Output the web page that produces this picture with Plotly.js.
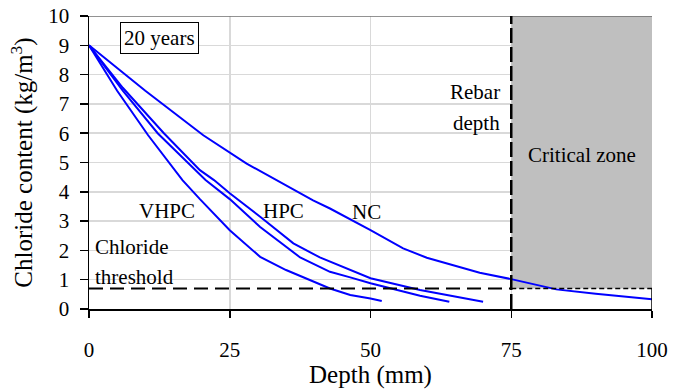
<!DOCTYPE html>
<html><head><meta charset="utf-8">
<script src="https://cdn.plot.ly/plotly-3.0.1.min.js"></script>
<style>html,body{margin:0;padding:0;background:#fff;}#chart{width:695px;height:389px;}
#chart svg text{fill:#000 !important;}
</style>
</head><body>
<div id="chart"></div>
<script>
// Depth (mm) and chloride content (kg/m3)
const ncDepth   = [0, 10, 20.3, 28, 39.8, 42.8, 50, 55.8, 60, 64.7, 69.4, 75, 83, 90, 100];
const ncCl      = [9, 7.45, 5.93, 4.96, 3.71, 3.43, 2.69, 2.07, 1.75, 1.50, 1.24, 1.02, 0.67, 0.52, 0.33];
const hpcADepth = [0, 6, 13.3, 19.7, 22.2, 25, 30.4, 36.3, 41, 46.4, 50, 58.8, 70];
const hpcACl    = [9, 7.55, 6.0, 4.74, 4.40, 3.95, 3.15, 2.24, 1.76, 1.33, 1.05, 0.65, 0.25];
const hpcBDepth = [0, 6, 12.2, 20.7, 25, 30.4, 37.5, 42.8, 46.4, 50, 58.8, 64];
const hpcBCl    = [9, 7.45, 6.0, 4.40, 3.75, 2.8, 1.76, 1.27, 1.08, 0.88, 0.45, 0.25];
const vhpcDepth = [0, 5, 10.5, 16.6, 19.7, 25, 30.4, 35, 42.8, 46.4, 50, 52];
const vhpcCl    = [9, 7.45, 5.93, 4.40, 3.75, 2.69, 1.78, 1.33, 0.70, 0.48, 0.36, 0.27];
const threshold = 0.7;
const rebarDepth = 75;
const maxDepth = 100;
const maxCl = 10;
const xTicks = [0, 25, 50, 75, 100];
const yTicks = [0,1,2,3,4,5,6,7,8,9,10];

const FONT = "Times New Roman";
const blue = '#0000ff';

const traces = [
  {x:[rebarDepth, maxDepth, maxDepth, rebarDepth, rebarDepth], y:[threshold, threshold, maxCl, maxCl, threshold],
   mode:'lines', fill:'toself', line:{width:0, color:'rgba(0,0,0,0)'},
   fillcolor:'#c4c4c4',
   fillpattern:{shape:'|', size:2, solidity:0.3, fgcolor:'#aaaaaa', bgcolor:'#c8c8c8'},
   hoverinfo:'skip'},
  {x:ncDepth, y:ncCl, mode:'lines', line:{color:blue, width:2}},
  {x:hpcADepth, y:hpcACl, mode:'lines', line:{color:blue, width:2}},
  {x:hpcBDepth, y:hpcBCl, mode:'lines', line:{color:blue, width:2}},
  {x:vhpcDepth, y:vhpcCl, mode:'lines', line:{color:blue, width:2}}
];

function ann(text, x, y, xanchor){
  return {text:text, x:x, y:y, xref:'x', yref:'y', showarrow:false, xanchor:xanchor||'center', yanchor:'middle'};
}

const layout = {
  width:695, height:389,
  margin:{l:89, r:43, t:16, b:80},
  paper_bgcolor:'#fff', plot_bgcolor:'#fff',
  showlegend:false,
  font:{family:FONT, size:21},
  xaxis:{range:[0, maxDepth], tickvals:xTicks, ticktext:xTicks.map(String), ticks:'outside', ticklen:7, tickwidth:1.5, tickcolor:'#000',
         showline:true, linecolor:'#000', linewidth:1.5, showgrid:true, gridcolor:'#d9d9d9', gridwidth:1.5, zeroline:false,
         ticklabelstandoff:14,
         title:{text:'Depth (mm)', standoff:6}},
  yaxis:{range:[0, maxCl], tickvals:yTicks, ticktext:yTicks.map(String), ticks:'outside', ticklen:8, tickwidth:1.5, tickcolor:'#000',
         showline:true, linecolor:'#000', linewidth:1.5, showgrid:true, gridcolor:'#d9d9d9', gridwidth:1.5, zeroline:false,
         ticklabelstandoff:6,
         title:{text:'Chloride content (kg/m<sup>3</sup>)', standoff:8}},
  shapes:[
    {type:'line', xref:'x', yref:'y', x0:0, x1:maxDepth, y0:maxCl, y1:maxCl, line:{color:'#6e6e6e', width:1.5}},
    {type:'line', xref:'x', yref:'y', x0:0, x1:rebarDepth, y0:threshold, y1:threshold, line:{color:'#000', width:2, dash:'14px,7px'}},
    {type:'line', xref:'x', yref:'y', x0:rebarDepth, x1:maxDepth, y0:threshold, y1:threshold, line:{color:'#000', width:1.5, dash:'5px,3px'}},
    {type:'line', xref:'x', yref:'y', x0:maxDepth, x1:maxDepth, y0:0, y1:threshold, line:{color:'#000', width:1.5}},
    {type:'line', xref:'x', yref:'y', x0:rebarDepth, x1:rebarDepth, y0:0, y1:maxCl, line:{color:'#000', width:2.5, dash:'15px,4px'}}
  ],
  annotations:[
    Object.assign(ann('20 years', 12.55, 9.25), {bordercolor:'#000', borderwidth:1, borderpad:3, bgcolor:'#fff'}),
    ann('VHPC', 13.9, 3.35),
    ann('HPC', 34.5, 3.35),
    ann('NC', 49.3, 3.31),
    ann('Chloride', 0.65, 2.12, 'left'),
    ann('threshold', 0.65, 1.10, 'left'),
    ann('Rebar', 73.3, 7.41, 'right'),
    ann('depth', 73.3, 6.35, 'right'),
    ann('Critical zone', 87.6, 5.25)
  ]
};

Plotly.newPlot('chart', traces, layout, {displayModeBar:false, staticPlot:true});
</script></body></html>
